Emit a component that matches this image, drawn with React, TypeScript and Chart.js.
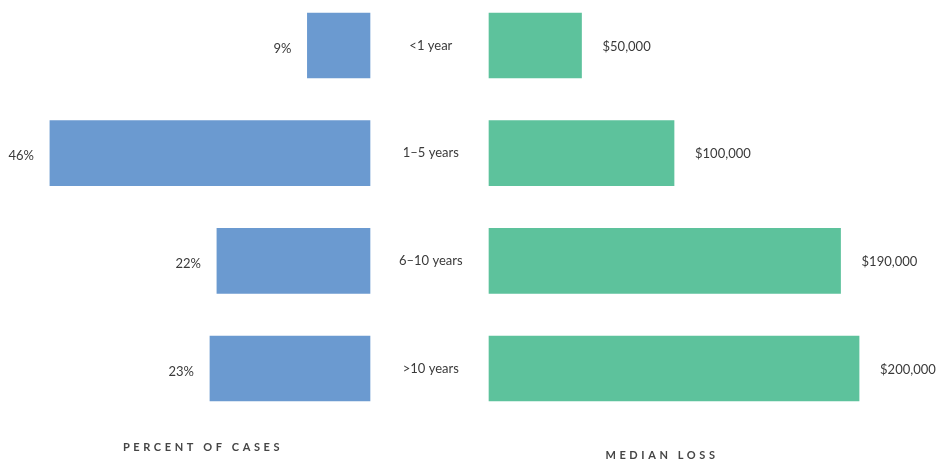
import React, { useEffect, useRef } from 'react';
import { Chart, registerables } from 'chart.js';

Chart.register(...registerables);

// ---- data ----
const categories = ['<1 year', '1–5 years', '6–10 years', '>10 years'];
const percentOfCases = [9, 46, 22, 23];
const medianLoss = [50000, 100000, 190000, 200000];
const percentAxisMax = 48;
const lossAxisMax = 187000;
const leftTitle = 'PERCENT OF CASES';
const rightTitle = 'MEDIAN LOSS';

// ---- style ----
const BLUE = '#6b9ad0';
const GREEN = '#5dc29c';
const TEXT_COLOR = '#3a3a3a';
const TITLE_COLOR = '#454545';
const FONT = 'Lato';

const spacingPlugin = {
  id: 'titleSpacing',
  beforeDraw(chart: any) {
    chart.ctx.letterSpacing = '3.6px';
  },
  beforeDatasetsDraw(chart: any) {
    chart.ctx.letterSpacing = '0px';
  },
};

function valueLabels(side: 'left' | 'right', fmt: (v: number) => string, gap: number, dy: number) {
  return {
    id: 'valueLabels',
    afterDatasetsDraw(chart: any) {
      const ctx = chart.ctx;
      const meta = chart.getDatasetMeta(0);
      const values = chart.data.datasets[0].data as number[];
      ctx.save();
      ctx.letterSpacing = '0px';
      ctx.font = `13px ${FONT}`;
      ctx.fillStyle = TEXT_COLOR;
      ctx.textBaseline = 'middle';
      meta.data.forEach((bar: any, i: number) => {
        const { x, y } = bar.getProps(['x', 'y'], true);
        if (side === 'left') {
          ctx.textAlign = 'right';
          ctx.fillText(fmt(values[i]), x - gap, y + dy);
        } else {
          ctx.textAlign = 'left';
          ctx.fillText(fmt(values[i]), x + gap, y + dy);
        }
      });
      ctx.restore();
    },
  };
}

const hiddenGrid = { display: false, drawTicks: false };

export default function App() {
  const leftRef = useRef<HTMLCanvasElement | null>(null);
  const rightRef = useRef<HTMLCanvasElement | null>(null);

  useEffect(() => {
    const left = new Chart(leftRef.current as HTMLCanvasElement, {
      type: 'bar',
      data: {
        labels: categories,
        datasets: [
          {
            data: percentOfCases,
            backgroundColor: BLUE,
            borderWidth: 0,
            barThickness: 65,
            clip: false,
          } as any,
        ],
      },
      options: {
        indexAxis: 'y',
        responsive: false,
        animation: false,
        layout: { padding: { left: 36, top: 45.5, right: 0, bottom: 0 } },
        plugins: { legend: { display: false }, tooltip: { enabled: false } },
        scales: {
          x: {
            type: 'linear',
            min: 0,
            max: percentAxisMax,
            reverse: true,
            grid: hiddenGrid,
            border: { display: false },
            ticks: { display: false },
            title: {
              display: true,
              text: leftTitle,
              color: TITLE_COLOR,
              font: { family: FONT, size: 11, weight: 'bold', lineHeight: 1 },
              padding: { top: 73, bottom: 8.5 },
            },
          },
          y: {
            type: 'category',
            position: 'right',
            offset: false,
            grid: hiddenGrid,
            border: { display: false },
            ticks: {
              z: 1,
              crossAlign: 'center',
              padding: 29,
              color: TEXT_COLOR,
              font: { family: FONT, size: 13 },
            },
            afterFit: (s: any) => {
              s.width = 110;
            },
          },
        },
      } as any,
      plugins: [spacingPlugin, valueLabels('left', (v) => `${v}%`, 16, 3)],
    });

    const right = new Chart(rightRef.current as HTMLCanvasElement, {
      type: 'bar',
      data: {
        labels: categories,
        datasets: [
          {
            data: medianLoss,
            backgroundColor: GREEN,
            borderWidth: 0,
            barThickness: 65,
            clip: false,
          } as any,
        ],
      },
      options: {
        indexAxis: 'y',
        responsive: false,
        animation: false,
        layout: { padding: { left: 9, top: 45.5, right: 104, bottom: 0 } },
        plugins: { legend: { display: false }, tooltip: { enabled: false } },
        scales: {
          x: {
            type: 'linear',
            min: 0,
            max: lossAxisMax,
            grid: hiddenGrid,
            border: { display: false },
            ticks: { display: false },
            title: {
              display: true,
              text: rightTitle,
              color: TITLE_COLOR,
              font: { family: FONT, size: 11, weight: 'bold', lineHeight: 1 },
              padding: { top: 81.5, bottom: 0 },
            },
          },
          y: {
            type: 'category',
            display: false,
            offset: false,
          },
        },
      } as any,
      plugins: [
        spacingPlugin,
        valueLabels('right', (v) => '$' + v.toLocaleString('en-US'), 21, 1),
      ],
    });

    return () => {
      left.destroy();
      right.destroy();
    };
  }, []);

  return (
    <div
      style={{
        position: 'absolute',
        left: 0,
        top: 0,
        width: 939,
        height: 461,
        background: '#ffffff',
        overflow: 'hidden',
      }}
    >
      <canvas
        ref={leftRef}
        width={480}
        height={461}
        style={{ position: 'absolute', left: 0, top: 0 }}
      />
      <canvas
        ref={rightRef}
        width={459}
        height={461}
        style={{ position: 'absolute', left: 480, top: 0 }}
      />
    </div>
  );
}
